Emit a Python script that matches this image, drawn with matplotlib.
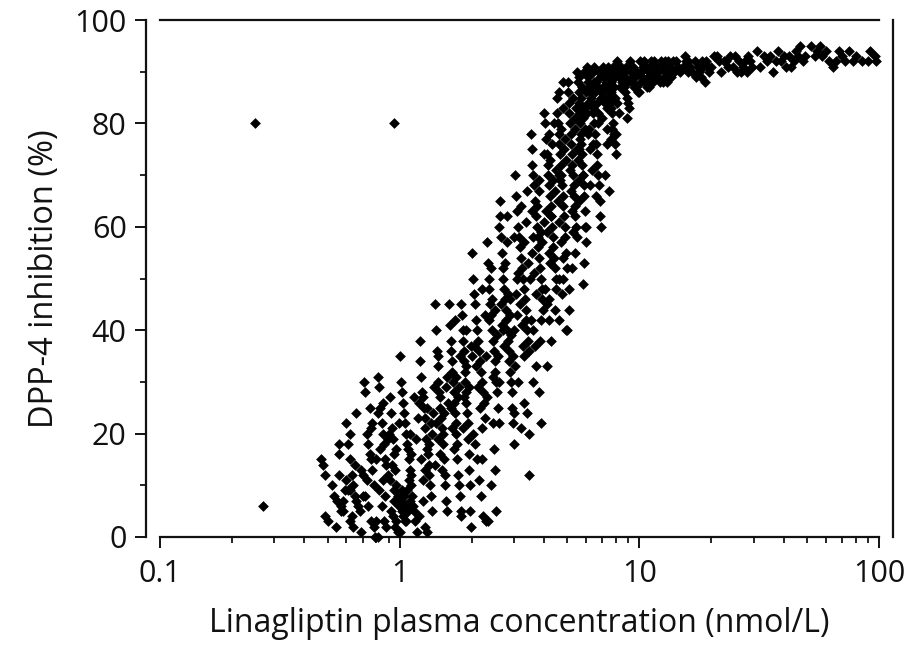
import matplotlib
matplotlib.use("Agg")
import matplotlib.pyplot as plt
from matplotlib.ticker import FixedLocator, NullFormatter, LogLocator

# ---- data: (concentration nmol/L, inhibition %) ----
outliers = [(0.25, 80), (0.95, 80), (0.27, 6)]

band_045_06 = [(0.47,15),(0.48,14),(0.49,4),(0.50,3),(0.52,10),(0.53,8),(0.55,7),(0.56,12),
               (0.57,6),(0.58,5),(0.59,9),(0.54,2),(0.56,18),(0.56,16),(0.49,12),(0.57,5)]
band_06_07 = [(0.60,22),(0.61,18),(0.62,15),(0.63,12),(0.64,10),(0.65,8),(0.66,7),(0.67,6),
              (0.68,5),(0.62,3),(0.64,2),(0.69,1),(0.66,24),(0.69,13),(0.61,9),(0.62,20),(0.63,4)]
band_07_08 = [(0.71,30),(0.72,28),(0.73,20),(0.74,18),(0.75,16),(0.76,15),(0.77,13),(0.78,10),
              (0.72,8),(0.74,6),(0.76,3),(0.78,2),(0.79,0),(0.73,11),(0.77,22),(0.75,25),(0.76,21)]
band_08_09 = [(0.81,31),(0.82,29),(0.83,25),(0.84,22),(0.85,20),(0.86,18),(0.87,15),(0.88,14),
              (0.89,12),(0.82,9),(0.84,6),(0.86,3),(0.88,2),(0.81,24),(0.83,17),(0.85,11),
              (0.87,8),(0.89,19),(0.80,3),(0.81,0)]
band_09_10 = [(0.91,27),(0.92,24),(0.93,21),(0.94,19),(0.95,16),(0.96,13),(0.97,10),(0.98,8),
              (0.99,6),(0.92,5),(0.94,4),(0.96,2),(0.98,1),(0.93,14),(0.97,17),(0.99,22),
              (0.91,11),(0.95,7)]
band_10_12 = [(1.00,35),(1.01,30),(1.02,28),(1.03,26),(1.04,24),(1.05,22),(1.06,20),(1.07,18),
              (1.08,17),(1.09,15),(1.10,13),(1.11,12),(1.12,10),(1.13,8),(1.14,6),(1.15,5),
              (1.16,3),(1.18,1),(1.01,7),(1.02,5),(1.03,4),(1.04,8),(1.05,6),(1.06,3),(1.07,9),
              (1.17,19),(1.19,23),(1.15,27),(1.12,16),(1.09,11),(1.00,1)]
band_12_14 = [(1.21,38),(1.22,34),(1.23,31),(1.24,28),(1.25,27),(1.26,25),(1.27,23),(1.28,21),
              (1.29,19),(1.30,17),(1.31,16),(1.32,14),(1.33,12),(1.34,10),(1.35,8),(1.36,5),
              (1.28,2),(1.30,1),(1.37,20),(1.38,24),(1.39,29),(1.23,15),(1.25,11),(1.27,13),
              (1.33,18),(1.35,22)]
band_14_16 = [(1.41,45),(1.42,40),(1.43,36),(1.44,33),(1.45,30),(1.46,28),(1.47,27),(1.48,25),
              (1.49,23),(1.50,21),(1.51,20),(1.52,18),(1.53,15),(1.54,12),(1.55,10),(1.56,7),
              (1.57,5),(1.58,31),(1.59,26),(1.44,19),(1.47,16),(1.50,13),(1.53,24),(1.56,29),
              (1.42,22)]
band_16_18 = [(1.61,45),(1.62,41),(1.63,38),(1.64,36),(1.65,34),(1.66,32),(1.67,30),(1.68,28),
              (1.69,26),(1.70,24),(1.71,22),(1.72,20),(1.73,18),(1.74,15),(1.75,12),(1.76,10),
              (1.78,8),(1.79,35),(1.77,29),(1.63,25),(1.66,21),(1.69,17),(1.72,31),(1.75,27),
              (1.80,5),(1.80,4)]
band_18_20 = [(1.81,45),(1.82,43),(1.83,40),(1.84,38),(1.85,36),(1.86,34),(1.87,32),(1.88,30),
              (1.89,28),(1.90,26),(1.91,24),(1.92,22),(1.93,19),(1.94,16),(1.95,13),(1.96,10),
              (1.97,5),(1.98,2),(1.99,37),(1.85,27),(1.90,33),(1.95,29),(1.83,21)]
band_20_23 = [(2.01,55),(2.03,50),(2.05,47),(2.07,45),(2.09,42),(2.11,40),(2.13,38),(2.15,36),
              (2.17,34),(2.19,32),(2.21,30),(2.23,28),(2.25,26),(2.27,23),(2.02,20),(2.06,18),
              (2.10,15),(2.14,11),(2.18,8),(2.22,4),(2.26,43),(2.04,37),(2.08,33),(2.12,29),
              (2.16,25),(2.20,21),(2.20,15),(2.29,3)]
band_23_26 = [(2.31,57),(2.33,53),(2.35,50),(2.37,48),(2.39,45),(2.41,43),(2.43,40),(2.45,38),
              (2.47,36),(2.49,34),(2.51,32),(2.53,30),(2.55,28),(2.57,25),(2.44,22),(2.48,17),
              (2.50,13),(2.40,10),(2.52,5),(2.34,3),(2.36,42),(2.42,46),(2.46,31),(2.54,39),
              (2.58,35),(2.32,27),(2.60,22)]
band_26_30 = [(2.61,65),(2.63,62),(2.65,58),(2.67,55),(2.69,52),(2.71,50),(2.73,48),(2.75,46),
              (2.77,44),(2.79,42),(2.81,40),(2.83,38),(2.85,36),(2.87,34),(2.89,32),(2.91,30),
              (2.93,28),(2.95,25),(2.97,22),(2.99,18),(2.64,45),(2.68,41),(2.72,37),(2.76,53),
              (2.80,57),(2.84,47),(2.88,43),(2.92,39),(2.96,35),(3.00,24)]
band_30_35 = [(3.02,70),(3.05,66),(3.08,63),(3.11,60),(3.14,58),(3.17,56),(3.20,54),(3.23,52),
              (3.26,50),(3.29,48),(3.32,46),(3.35,44),(3.38,42),(3.41,40),(3.44,38),(3.47,36),
              (3.04,33),(3.20,21),(3.40,24),(3.12,30),(3.30,26),(3.48,20),(3.45,12),(3.07,47),
              (3.13,51),(3.19,45),(3.25,41),(3.31,57),(3.37,61),(3.43,53),(3.10,43),(3.28,37)]
band_35_40 = [(3.52,78),(3.55,75),(3.58,72),(3.61,70),(3.64,68),(3.67,65),(3.70,62),(3.73,60),
              (3.76,58),(3.79,56),(3.82,54),(3.85,52),(3.88,50),(3.91,48),(3.94,46),(3.97,44),
              (3.54,42),(3.60,40),(3.66,37),(3.72,33),(3.80,28),(3.90,22),(3.57,55),(3.63,51),
              (3.69,47),(3.75,64),(3.81,67),(3.87,59),(3.93,57),(3.99,61),(3.56,63),(3.86,38)]
band_40_45 = [(4.02,82),(4.05,80),(4.08,77),(4.11,74),(4.14,72),(4.17,70),(4.20,68),(4.23,66),
              (4.26,64),(4.29,62),(4.32,60),(4.35,58),(4.38,56),(4.41,54),(4.44,52),(4.47,50),
              (4.04,48),(4.10,45),(4.18,42),(4.28,38),(4.10,33),(4.07,63),(4.13,59),(4.19,55),
              (4.25,73),(4.31,76),(4.37,69),(4.43,67),(4.49,71),(4.22,53),(4.46,44)]
band_45_50 = [(4.52,85),(4.55,82),(4.58,80),(4.61,78),(4.64,76),(4.67,74),(4.70,72),(4.73,70),
              (4.76,68),(4.79,66),(4.82,64),(4.85,62),(4.88,60),(4.91,58),(4.94,55),(4.97,52),
              (4.60,50),(4.75,47),(4.60,42),(4.95,40),(4.57,65),(4.63,61),(4.69,57),(4.72,79),
              (4.78,83),(4.84,75),(4.90,77),(4.96,73),(4.66,69),(4.81,54)]
band_50_55 = [(5.02,88),(5.05,86),(5.08,84),(5.11,82),(5.14,80),(5.17,78),(5.20,76),(5.23,74),
              (5.26,72),(5.29,70),(5.32,68),(5.35,66),(5.38,64),(5.41,62),(5.44,60),(5.47,58),
              (5.40,55),(5.25,52),(5.10,48),(5.10,44),(5.00,40),(5.13,71),(5.19,67),(5.31,85),
              (5.37,79),(5.43,83),(5.49,75),(5.22,63),(5.28,59)]
band_55_60 = [(5.52,90),(5.55,88),(5.58,86),(5.61,84),(5.64,82),(5.67,80),(5.70,78),(5.73,76),
              (5.76,74),(5.79,72),(5.82,70),(5.85,68),(5.88,66),(5.91,63),(5.94,60),(5.97,57),
              (5.90,53),(5.80,49),(5.53,73),(5.59,69),(5.65,77),(5.71,85),(5.77,87),(5.83,81),
              (5.89,83),(5.95,79),(5.62,65),(5.99,60)]
band_6_7 = [(6.03,91),(6.08,89),(6.13,88),(6.18,87),(6.23,86),(6.28,85),(6.33,84),(6.38,83),
            (6.43,82),(6.48,80),(6.53,78),(6.58,76),(6.63,74),(6.68,72),(6.73,70),(6.78,68),
            (6.83,65),(6.88,62),(6.93,60),(6.05,82),(6.15,79),(6.25,75),(6.35,71),(6.45,88),
            (6.55,86),(6.65,84),(6.75,87),(6.85,89),(6.95,85),(6.10,84),(6.40,90),(6.70,80)]
band_7_8 = [(7.05,91),(7.12,90),(7.19,89),(7.26,88),(7.33,87),(7.40,86),(7.47,85),(7.54,84),
            (7.61,83),(7.68,82),(7.75,80),(7.82,78),(7.89,76),(7.96,74),(7.20,70),(7.50,67),
            (7.08,87),(7.15,85),(7.30,83),(7.45,89),(7.60,88),(7.70,90),(7.85,87),(7.95,89),
            (7.35,79),(7.65,77)]
band_8_10 = [(8.05,91),(8.15,90),(8.25,89),(8.35,89),(8.45,88),(8.55,88),(8.65,87),(8.75,86),
             (8.85,85),(8.95,84),(9.05,83),(8.2,82),(8.9,81),(8.0,78),(9.2,90),(9.4,91),(9.6,89),
             (9.8,90),(9.3,88),(9.7,87),(9.9,86),(8.6,90),(9.1,92),(8.4,91)]
band_10_13 = [(10.1,92),(10.4,91),(10.7,91),(11.0,90),(11.3,90),(11.6,89),(11.9,89),(12.2,88),
              (10.8,87),(10.0,86),(12.5,91),(12.8,92),(11.5,92),(10.3,89),(10.6,88),(11.1,91),
              (12.0,90),(12.7,89)]
band_13_20 = [(13.2,92),(13.8,92),(14.5,91),(15.2,91),(15.9,90),(16.6,90),(17.3,89),(18.0,89),
              (18.8,88),(14.0,90),(16.0,92),(17.5,91),(19.0,92),(19.5,90),(13.5,89),(15.5,93),
              (18.5,91)]
band_20_30 = [(20.5,93),(21.5,92),(22.5,92),(23.5,91),(24.5,91),(25.5,90),(26.5,90),(27.5,92),
              (28.5,93),(29.5,91),(22.0,90),(24.0,93),(26.0,92),(28.0,90)]
band_30_50 = [(31,94),(33,93),(35,93),(37,92),(39,92),(41,91),(43,91),(45,94),(47,95),(49,93),
              (32,91),(36,90),(40,93),(44,92),(38,94)]
band_50_100 = [(52,95),(55,94),(58,93),(62,92),(66,92),(70,93),(75,94),(80,93),(85,92),(92,94),
               (96,93),(97,92),(60,94),(64,91),(90,92)]

fill_upper = [(5.6,89),(5.9,90),(6.2,90),(6.5,91),(6.8,90),(7.1,89),(7.4,91),(7.8,91),(8.1,92),
              (8.5,90),(8.8,91),(9.4,89),(6.0,86),(6.3,87),(6.6,88),(6.9,86),(7.2,84),(7.6,86),
              (7.9,85),(8.3,87),(8.7,89),(9.0,88),(9.5,87),(5.7,83),(6.1,78),(6.4,76),(6.7,82),
              (7.0,81),(7.3,76),(7.7,79),(8.1,84),(5.4,81),(5.6,75),(5.8,70),(6.2,68),(6.6,66)]
fill_plateau = [(10.2,90),(10.5,92),(10.9,89),(11.2,92),(11.8,91),(12.3,92),(12.9,90),(13.4,91),
                (14.2,92),(14.8,90),(15.6,92),(16.3,91),(17.0,92),(17.8,90),(18.3,92),(19.3,91),
                (20.0,91),(21.0,93),(23.0,92),(25.0,93),(27.0,91),(29.0,92),(34,92),(42,93),
                (46,93),(48,92),(54,93),(57,95),(68,94),(72,92),(78,92),(11.4,88),(12.6,88),
                (10.2,88),(11.0,87),(13.0,88)]
fill_middle = [(2.2,48),(2.4,52),(2.6,60),(2.8,62),(3.0,58),(3.2,64),(3.4,67),(3.6,58),(3.8,69),
               (4.0,74),(4.2,78),(4.4,80),(4.6,86),(4.8,88),(3.3,35),(3.6,30),(3.9,42),(4.2,46),
               (4.5,48),(4.8,50),(2.9,46),(3.1,50),(2.5,44),(2.7,40),(3.5,50),(4.3,62),(4.6,70),
               (3.0,40),(2.3,35),(2.6,30),(1.9,40),(1.7,42),(2.0,35)]
fill_low = [(0.95,9),(1.0,6),(1.02,9),(1.05,3),(1.08,5),(1.1,7),(0.97,3),(1.2,4),(1.25,7),
            (1.4,14),(0.7,12),(0.65,14),(0.6,11),(0.58,7),(0.62,9),(0.7,8),(0.85,26),(0.9,20),
            (1.3,25),(1.45,35),(1.1,20),(1.2,26),(0.8,15)]

bands = [outliers, band_045_06, band_06_07, band_07_08, band_08_09, band_09_10, band_10_12,
         band_12_14, band_14_16, band_16_18, band_18_20, band_20_23, band_23_26, band_26_30,
         band_30_35, band_35_40, band_40_45, band_45_50, band_50_55, band_55_60, band_6_7,
         band_7_8, band_8_10, band_10_13, band_13_20, band_20_30, band_30_50, band_50_100,
         fill_upper, fill_plateau, fill_middle, fill_low]

x_ticks = [0.1, 1, 10, 100]
x_tick_labels = ["0.1", "1", "10", "100"]
y_ticks = [0, 20, 40, 60, 80, 100]
y_minor = [10, 30, 50, 70, 90]

conc = [p[0] for b in bands for p in b]
inhib = [p[1] for b in bands for p in b]

plt.rcParams['font.family'] = ['Open Sans', 'DejaVu Sans']

fig = plt.figure(figsize=(9.16, 6.45), dpi=100)
ax = fig.add_axes([160/916, 1-537/645, (879-160)/916, (537-20)/645])

ax.scatter(conc, inhib, marker='D', s=30, c='black', linewidths=0, clip_on=False, zorder=3)

ax.set_xscale('log')
ax.set_xlim(0.1, 100)
ax.set_ylim(0, 100)

ax.xaxis.set_major_locator(FixedLocator(x_ticks))
ax.set_xticklabels(x_tick_labels)
ax.xaxis.set_minor_locator(LogLocator(base=10, subs=range(2, 10)))
ax.xaxis.set_minor_formatter(NullFormatter())
ax.set_yticks(y_ticks)
ax.yaxis.set_minor_locator(FixedLocator(y_minor))

for side in ['left', 'right']:
    ax.spines[side].set_position(('outward', 10))
for s in ax.spines.values():
    s.set_linewidth(1.6)
    s.set_color('#111111')

ax.tick_params(axis='both', which='major', direction='out', length=8, width=1.4,
               labelsize=22, colors='#111111')
ax.tick_params(axis='x', which='major', pad=8)
ax.tick_params(axis='y', which='major', pad=6)
ax.tick_params(axis='both', which='minor', direction='out', length=4.5, width=1.2)
ax.tick_params(axis='y', right=False)
ax.tick_params(axis='x', top=False)

ax.set_xlabel("Linagliptin plasma concentration (nmol/L)", fontsize=23, labelpad=13, color='#111111')
ax.set_ylabel("DPP-4 inhibition (%)", fontsize=23.5, labelpad=10, color='#111111')

fig.savefig("out.png", dpi=100)
